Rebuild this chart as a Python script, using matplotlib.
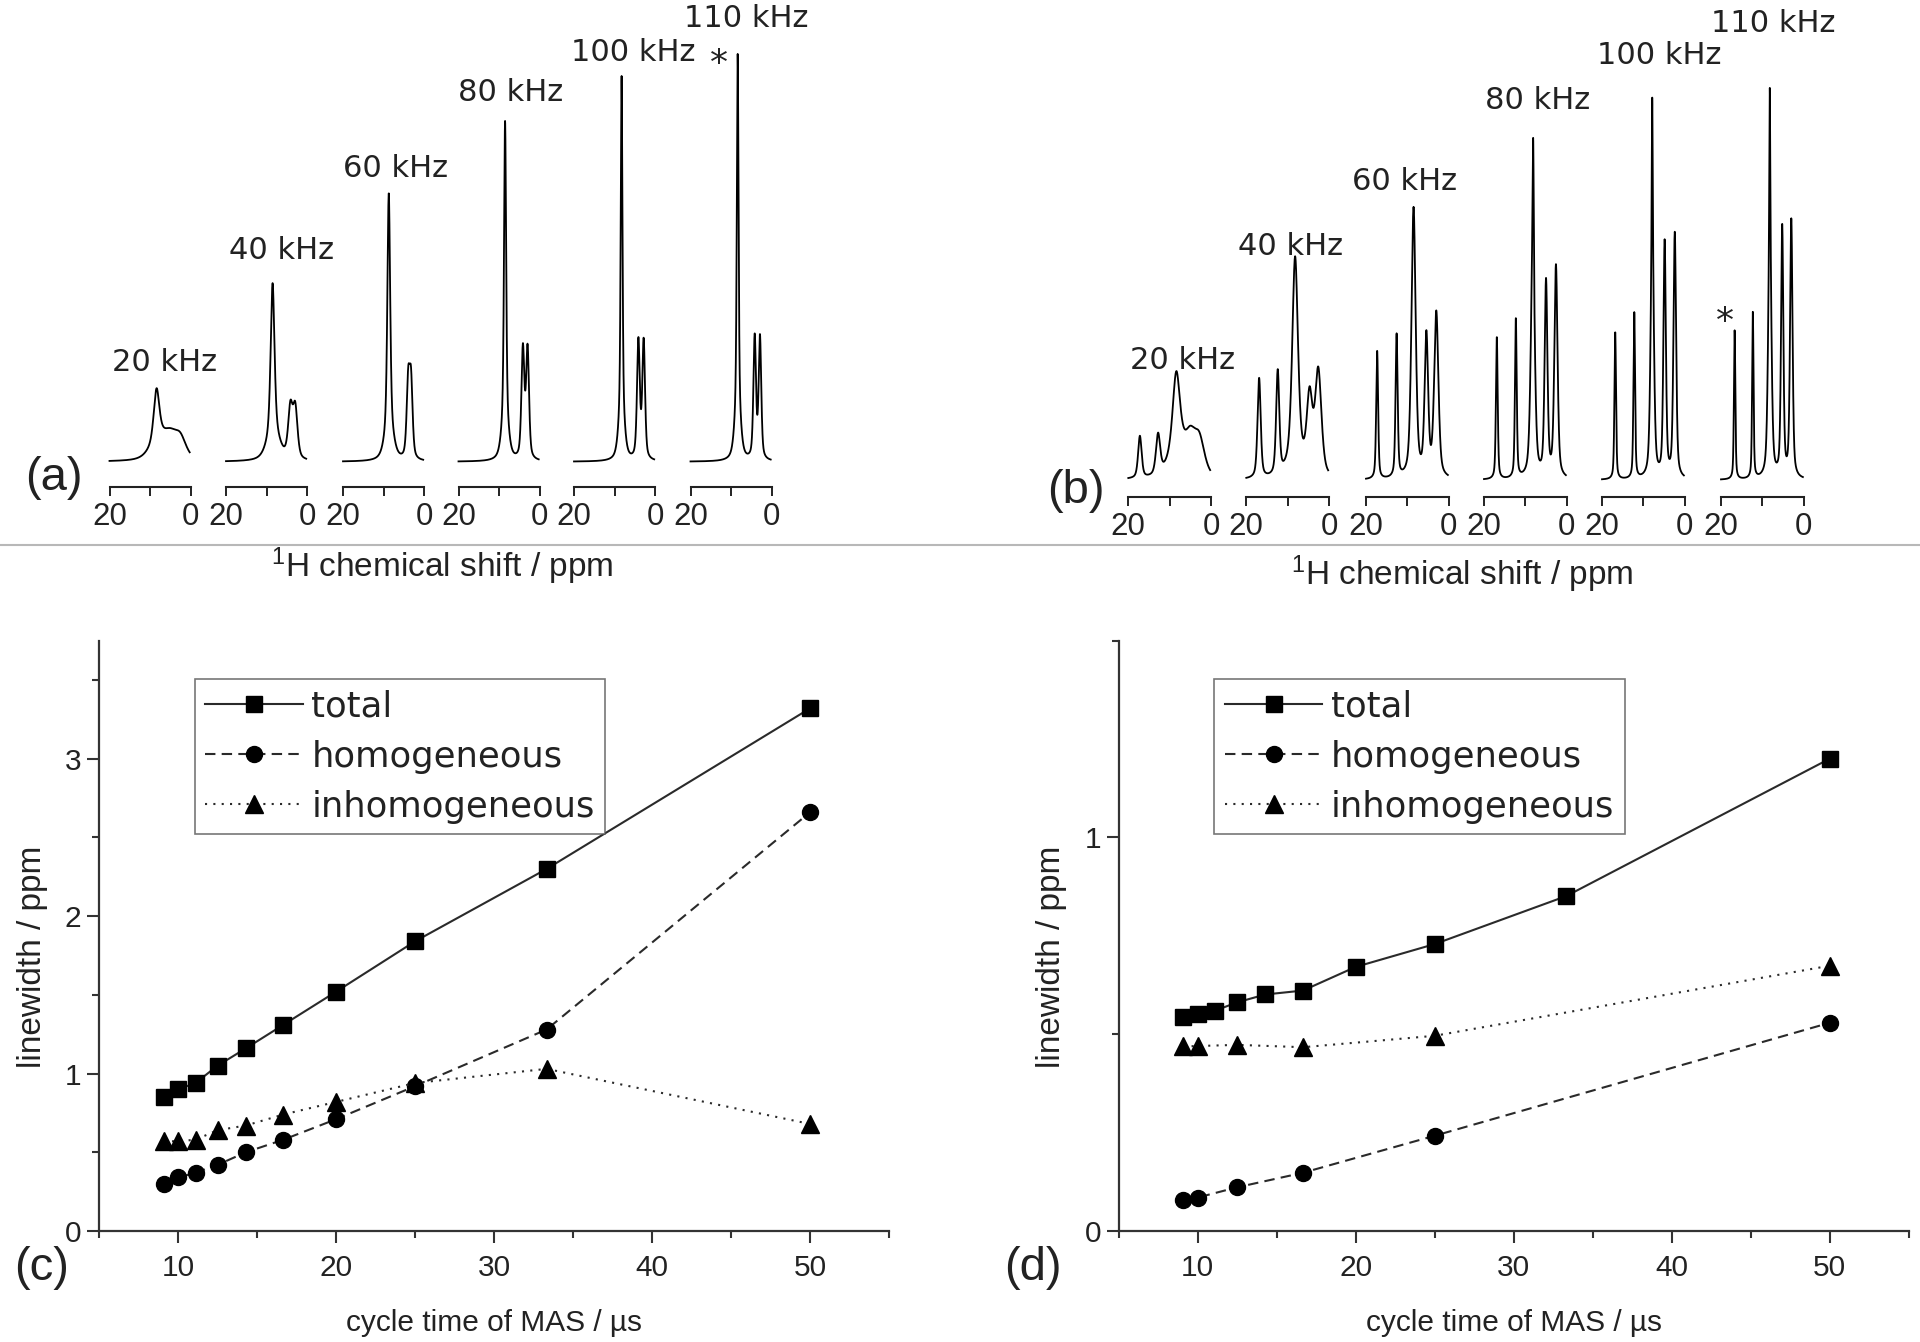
import numpy as np
import matplotlib
matplotlib.use("Agg")
import matplotlib.pyplot as plt
from matplotlib import font_manager as fm
from matplotlib.lines import Line2D
from matplotlib.ticker import MultipleLocator

# ---------------------------------------------------------------- data
spin_labels = ["20 kHz", "40 kHz", "60 kHz", "80 kHz", "100 kHz", "110 kHz"]

# (a) 1H spectra: peak positions (ppm), heights (a.u.), FWHM (ppm)
a_pos = [[8.4, 7.8, 5.0, 2.5],
         [8.5, 8.3, 4.1, 2.9],
         [8.7, 8.6, 3.9, 3.2],
         [8.5, 8.5, 4.1, 2.95],
         [8.25, 8.25, 4.1, 2.8],
         [8.35, 8.35, 4.15, 2.85]]
a_height = [[50, 20, 18, 20],
            [150, 28, 50, 50],
            [235, 33, 75, 75],
            [295, 45, 110, 110],
            [335, 50, 118, 118],
            [352, 55, 122, 122]]
a_fwhm = [[1.6, 5.0, 4.0, 3.5],
          [1.1, 3.5, 1.3, 1.3],
          [0.8, 2.4, 0.9, 0.9],
          [0.6, 1.8, 0.85, 0.85],
          [0.5, 1.6, 0.8, 0.8],
          [0.5, 1.6, 0.75, 0.75]]

# (b) 1H spectra
b_pos = [[17.2, 12.8, 8.4, 8.0, 5.0, 2.8],
         [16.9, 12.4, 8.2, 8.0, 4.7, 2.6],
         [17.3, 12.6, 8.5, 5.4, 3.0],
         [16.9, 12.3, 8.2, 8.1, 5.0, 2.6],
         [16.8, 12.2, 7.85, 7.85, 4.85, 2.4],
         [16.7, 12.3, 8.2, 8.2, 5.2, 3.0]]
b_height = [[42, 40, 75, 30, 30, 35],
            [100, 104, 200, 20, 75, 105],
            [128, 143, 270, 140, 165],
            [142, 159, 230, 115, 195, 212],
            [147, 166, 250, 130, 235, 245],
            [149, 166, 255, 135, 250, 258]]
b_fwhm = [[1.0, 1.2, 2.0, 5.0, 3.0, 3.0],
          [0.9, 0.9, 1.6, 4.0, 1.6, 1.8],
          [0.55, 0.6, 1.2, 1.0, 1.2],
          [0.5, 0.5, 1.1, 0.3, 0.8, 0.9],
          [0.45, 0.45, 0.9, 0.25, 0.7, 0.75],
          [0.4, 0.4, 0.9, 0.25, 0.65, 0.7]]

# (c) linewidths vs MAS cycle time
cycle_c = [9.09, 10.0, 11.11, 12.5, 14.29, 16.67, 20.0, 25.0, 33.33, 50.0]
total_c = [0.85, 0.90, 0.94, 1.05, 1.16, 1.31, 1.52, 1.84, 2.30, 3.32]
homo_c = [0.30, 0.34, 0.37, 0.42, 0.50, 0.58, 0.71, 0.92, 1.28, 2.66]
inhomo_c = [0.57, 0.57, 0.58, 0.64, 0.67, 0.74, 0.82, 0.94, 1.03, 0.68]

# (d)
cycle_d_total = [9.09, 10.0, 11.11, 12.5, 14.29, 16.67, 20.0, 25.0, 33.33, 50.0]
total_d = [0.543, 0.551, 0.560, 0.581, 0.601, 0.611, 0.671, 0.729, 0.851, 1.200]
cycle_d_part = [9.09, 10.0, 12.5, 16.67, 25.0, 50.0]
homo_d = [0.079, 0.085, 0.111, 0.148, 0.242, 0.529]
inhomo_d = [0.469, 0.470, 0.473, 0.467, 0.496, 0.674]

series_names = ["total", "homogeneous", "inhomogeneous"]

# ---------------------------------------------------------------- fonts
def has_font(name):
    try:
        fm.findfont(fm.FontProperties(family=name), fallback_to_default=False)
        return True
    except Exception:
        return False

SANS = "Liberation Sans" if has_font("Liberation Sans") else "DejaVu Sans"
NARROW = "Liberation Sans Narrow" if has_font("Liberation Sans Narrow") else SANS
LEG = "DejaVu Sans"
plt.rcParams["font.family"] = [SANS, "DejaVu Sans"]
plt.rcParams["mathtext.fontset"] = "custom"
plt.rcParams["mathtext.rm"] = SANS
plt.rcParams["mathtext.it"] = SANS
plt.rcParams["mathtext.bf"] = SANS

W, H = 1920, 1342
fig = plt.figure(figsize=(W / 100, H / 100), dpi=100)
PT = 0.72  # points per pixel at dpi 100


def fx(px):
    return px / W


def fy(py):
    return 1 - py / H


def lineshape(ppm, pos, hgt, fwhm, eta=0.5):
    y = np.zeros_like(ppm)
    for p, h, w in zip(pos, hgt, fwhm):
        d = (ppm - p) / (w / 2.0)
        y += h * (eta / (1 + d ** 2) + (1 - eta) * np.exp(-np.log(2) * d ** 2))
    return y


ppm = np.linspace(20, 0.2, 1500)

tick_font = 25 if NARROW != SANS else 22.5


def spectra_panel(lefts, width, axis_y, base_y, pos, hgt, fw, lab_dx, lab_dy,
                  star_idx, star_xy):
    axes = []
    for i in range(6):
        ax = fig.add_axes([fx(lefts[i]), fy(axis_y), fx(width), axis_y / H])
        ax.set_facecolor("none")
        y = lineshape(ppm, pos[i], hgt[i], fw[i])
        ax.plot(ppm, y, color="black", lw=1.3, clip_on=False)
        ax.set_xlim(20, 0)
        ax.set_ylim(-(axis_y - base_y), base_y)
        for s in ("left", "right", "top"):
            ax.spines[s].set_visible(False)
        ax.spines["bottom"].set_linewidth(1.5)
        ax.spines["bottom"].set_color("#222222")
        ax.set_yticks([])
        ax.set_xticks([20, 10, 0])
        ax.set_xticklabels(["20", "", "0"])
        ax.tick_params(axis="x", direction="out", length=6.5, width=1.4,
                       pad=4, labelsize=tick_font, colors="#222222")
        for t in ax.get_xticklabels():
            t.set_fontfamily(NARROW)
        ax.annotate(spin_labels[i], xy=(20, y.max()), xycoords="data",
                    xytext=(lab_dx[i] * PT, lab_dy[i] * PT),
                    textcoords="offset points", ha="left", va="baseline",
                    fontsize=22, family="DejaVu Sans", color="#222222",
                    annotation_clip=False)
        axes.append(ax)
    sx, sy = star_xy
    axes[star_idx].text(sx, sy, "*", ha="center", va="center",
                        fontsize=26, family="DejaVu Sans", color="#222222")
    return axes


a_axes = spectra_panel([109.5, 226.0, 343.0, 458.5, 574.0, 690.5], 81,
                       487.3, 461.7, a_pos, a_height, a_fwhm,
                       [3, 3, 0, 0, -3, -6], [17, 24, 16, 20, 15, 27],
                       5, (13.0, 398))
b_axes = spectra_panel([1128.3, 1246.3, 1366.0, 1484.0, 1602.0, 1721.0], 82.7,
                       497.0, 480.0, b_pos, b_height, b_fwhm,
                       [2, -8, -14, 1, -5, -10], [2, 1, 17, 29, 34, 56],
                       5, (19.0, 158))

fig.text(fx(442), fy(566), r"$^{1}$H chemical shift / ppm", ha="center",
         va="center", fontsize=24, color="#222222")
fig.text(fx(1462), fy(574), r"$^{1}$H chemical shift / ppm", ha="center",
         va="center", fontsize=24, color="#222222")

fig.add_artist(Line2D([0, 1], [fy(545), fy(545)], transform=fig.transFigure,
                      color="#b8b8b8", lw=1.5))

for txt, (px, py) in zip(["(a)", "(b)", "(c)", "(d)"],
                         [(54, 478), (1076, 491), (42, 1268), (1033, 1268)]):
    fig.text(fx(px), fy(py), txt, ha="center", va="center", fontsize=34,
             color="#222222")

# ---------------------------------------------------------------- (c), (d)
LC = "#2a2a2a"


def line_panel(left, series, ymax):
    ax = fig.add_axes([fx(left), fy(1231), fx(790), (1231 - 640.7) / H])
    ax.set_facecolor("none")
    styles = [dict(ls="-", marker="s", ms=11.5),
              dict(ls=(0, (5, 3)), marker="o", ms=11.5),
              dict(ls=(0, (1, 3)), marker="^", ms=13)]
    for (xs, ys), name, st in zip(series, series_names, styles):
        ax.plot(xs, ys, color=LC, lw=1.5, ls=st["ls"], marker=st["marker"],
                ms=st["ms"], mfc="black", mec="black", label=name,
                clip_on=False, zorder=3)
    ax.set_xlim(5, 55)
    ax.set_ylim(0, ymax)
    ax.xaxis.set_major_locator(MultipleLocator(10))
    ax.xaxis.set_minor_locator(MultipleLocator(5))
    ax.yaxis.set_major_locator(MultipleLocator(1))
    ax.yaxis.set_minor_locator(MultipleLocator(0.5))
    for s in ("right", "top"):
        ax.spines[s].set_visible(False)
    for s in ("left", "bottom"):
        ax.spines[s].set_linewidth(1.6)
        ax.spines[s].set_color("#333333")
    ax.tick_params(which="major", direction="out", length=8.6, width=1.5,
                   labelsize=21.5, colors="#333333", labelcolor="#222222")
    ax.tick_params(which="minor", direction="out", length=5, width=1.5,
                   colors="#333333")
    ax.tick_params(axis="x", which="major", pad=8)
    ax.tick_params(axis="y", which="major", pad=4)
    ax.set_xlabel("cycle time of MAS / µs", fontsize=21.5, color="#222222")
    ax.xaxis.set_label_coords(0.5, -0.132)
    ax.set_ylabel("linewidth / ppm", fontsize=24, color="#222222")
    ax.yaxis.set_label_coords(-0.065, 0.464)
    leg = ax.legend(loc="upper left", bbox_to_anchor=(0.121, 0.935),
                    borderaxespad=0, prop=dict(family=LEG, size=25.5),
                    handlelength=2.75, handletextpad=0.25, labelspacing=0.45,
                    borderpad=0.3, frameon=True, fancybox=False,
                    numpoints=1)
    fr = leg.get_frame()
    fr.set_edgecolor("#555555")
    fr.set_linewidth(1.2)
    for t in leg.get_texts():
        t.set_color("#222222")
    return ax


ax_c = line_panel(99, [(cycle_c, total_c), (cycle_c, homo_c),
                       (cycle_c, inhomo_c)], 3.75)
ax_d = line_panel(1118.6, [(cycle_d_total, total_d),
                           (cycle_d_part, homo_d),
                           (cycle_d_part, inhomo_d)], 1.5)

fig.savefig("out.png", dpi=100)
